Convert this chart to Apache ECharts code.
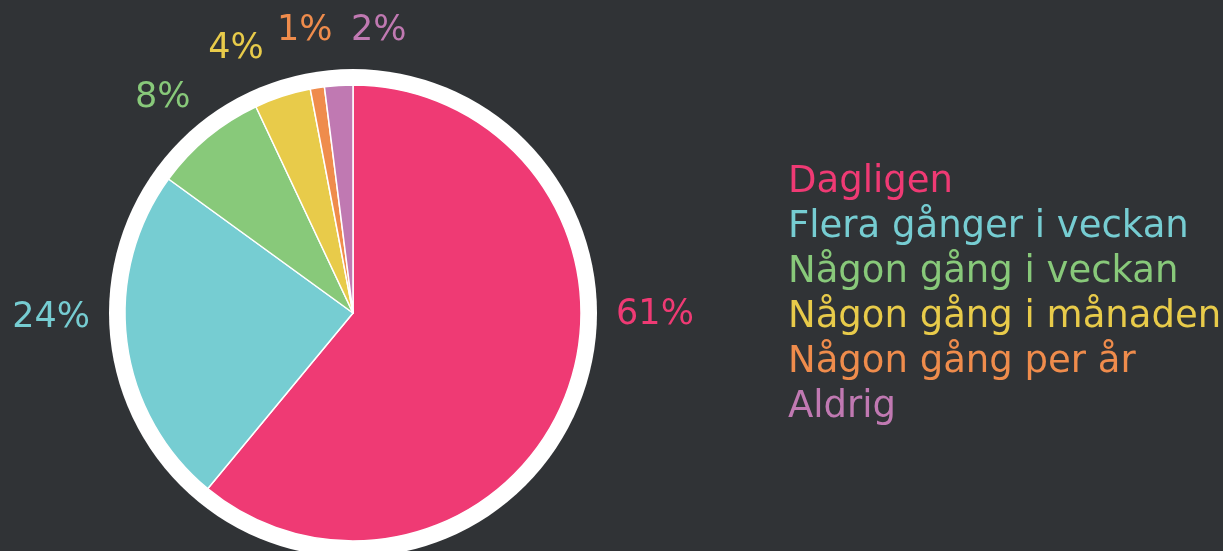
<!DOCTYPE html>
<html>
<head>
<meta charset="utf-8">
<style>
  html, body { margin: 0; padding: 0; background: #303336; }
  #chart { width: 1223px; height: 551px; }
</style>
<script src="https://cdn.jsdelivr.net/npm/echarts@6/dist/echarts.min.js"></script>
</head>
<body>
<div id="chart"></div>
<script>
// data
const categories = [
  'Dagligen',
  'Flera gånger i veckan',
  'Någon gång i veckan',
  'Någon gång i månaden',
  'Någon gång per år',
  'Aldrig'
];
const values = [61, 24, 8, 4, 1, 2];
const colors = ['#ef3a74', '#76cdd2', '#88c97a', '#e8cb4a', '#ef8c4c', '#c079b2'];

const center = [353, 313];
const pieRadius = 228;
// label placement: shift from mid angle (deg) and distance from centre,
// mimics the collision-avoiding layout of the original
const labelNudge = [-19.4, 6.3, -1.9, -5.9, -0.7, 8.8];
const labelDist = [302, 302, 287, 289, 286, 283];

const total = values.reduce((a, b) => a + b, 0);
const midAngles = [];
let acc = 0;
values.forEach(v => {
  midAngles.push((acc + v / 2) / total * 360);
  acc += v;
});

const chart = echarts.init(document.getElementById('chart'));

const option = {
  backgroundColor: '#303336',
  animation: false,
  legend: {
    orient: 'vertical',
    left: 778,
    top: 155,
    itemWidth: 0,
    itemHeight: 45,
    itemGap: 0,
    icon: 'none',
    selectedMode: false,
    textStyle: {
      fontFamily: 'DejaVu Sans',
      fontSize: 37,
      lineHeight: 45
    },
    data: categories.map((name, i) => ({
      name,
      textStyle: { color: colors[i] }
    }))
  },
  series: [
    {
      // white ring behind the pie
      type: 'pie',
      center,
      radius: [0, pieRadius + 16],
      silent: true,
      z: 1,
      label: { show: false },
      labelLine: { show: false },
      data: [{ value: 1, name: '_ring', itemStyle: { color: '#ffffff' } }]
    },
    {
      type: 'pie',
      center,
      radius: [0, pieRadius],
      startAngle: 90,
      clockwise: true,
      avoidLabelOverlap: false,
      z: 2,
      itemStyle: {
        borderColor: '#ffffff',
        borderWidth: 1.5
      },
      label: {
        show: true,
        position: 'outside',
        formatter: '{c}%',
        fontFamily: 'DejaVu Sans',
        fontSize: 35
      },
      labelLine: { show: false },
      labelLayout: params => {
        const i = params.dataIndex;
        const a = (midAngles[i] + labelNudge[i]) * Math.PI / 180;
        return {
          x: center[0] + labelDist[i] * Math.sin(a),
          y: center[1] - labelDist[i] * Math.cos(a),
          align: 'center',
          verticalAlign: 'middle'
        };
      },
      data: categories.map((name, i) => ({
        name,
        value: values[i],
        itemStyle: { color: colors[i] },
        label: { color: colors[i] }
      }))
    }
  ]
};

chart.setOption(option);
</script>
</body>
</html>
